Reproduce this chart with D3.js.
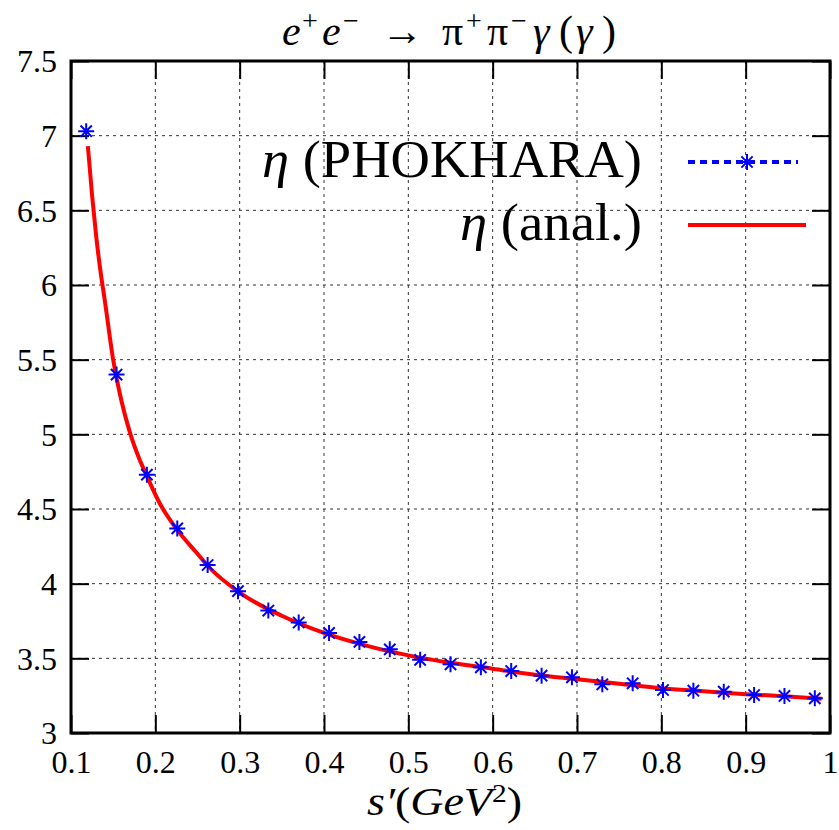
<!DOCTYPE html>
<html>
<head>
<meta charset="utf-8">
<script src="https://cdn.jsdelivr.net/npm/d3@7"></script>
<style>
  html, body { margin: 0; padding: 0; background: #fff; }
  svg { display: block; }
  text { font-family: "Liberation Serif", "DejaVu Serif", serif; fill: #000; }
</style>
</head>
<body>
<svg id="chart" width="839" height="830"></svg>
<script>
// ---- data ----
const xTicks = [0.1, 0.2, 0.3, 0.4, 0.5, 0.6, 0.7, 0.8, 0.9, 1.0];
const xTickLabels = ["0.1", "0.2", "0.3", "0.4", "0.5", "0.6", "0.7", "0.8", "0.9", "1"];
const yTicks = [3, 3.5, 4, 4.5, 5, 5.5, 6, 6.5, 7, 7.5];
const yTickLabels = ["3", "3.5", "4", "4.5", "5", "5.5", "6", "6.5", "7", "7.5"];

// PHOKHARA (Monte Carlo) points
const mcX = [0.118, 0.154, 0.190, 0.226, 0.262, 0.298, 0.334, 0.370, 0.406, 0.442, 0.478, 0.514, 0.550,
             0.586, 0.622, 0.658, 0.694, 0.730, 0.766, 0.802, 0.838, 0.874, 0.910, 0.946, 0.982];
const mcY = [7.03, 5.40, 4.73, 4.37, 4.125, 3.95, 3.82, 3.74, 3.67, 3.61, 3.56, 3.49, 3.46,
             3.44, 3.415, 3.384, 3.373, 3.326, 3.333, 3.288, 3.283, 3.277, 3.254, 3.248, 3.232];

// analytical curve
const anX = [0.120, 0.125, 0.130, 0.135, 0.140, 0.150, 0.160, 0.170, 0.180, 0.190, 0.206, 0.226, 0.250,
             0.262, 0.300, 0.350, 0.400, 0.450, 0.500, 0.550, 0.600, 0.650, 0.700, 0.750, 0.800,
             0.850, 0.900, 0.950, 0.990];
const anY = [6.93, 6.60, 6.32, 6.09, 5.90, 5.50, 5.22, 5.01, 4.85, 4.72, 4.53, 4.36, 4.20,
             4.12, 3.94, 3.785, 3.67, 3.585, 3.52, 3.47, 3.43, 3.39, 3.36, 3.33, 3.30,
             3.28, 3.26, 3.245, 3.23];

// ---- layout ----
const svg = d3.select("#chart");
const L = 71, R = 830, T = 61, B = 733;
const x = d3.scaleLinear().domain([0.1, 1.0]).range([L, R]);
const y = d3.scaleLinear().domain([3, 7.5]).range([B, T]);

// grid
const grid = svg.append("g");
grid.selectAll("line.gx").data(xTicks.slice(1, -1)).enter().append("line")
  .attr("x1", d => x(d)).attr("x2", d => x(d)).attr("y1", T).attr("y2", B)
  .attr("stroke", "#333").attr("stroke-width", 1).attr("stroke-dasharray", "3,4");
grid.selectAll("line.gy").data(yTicks.slice(1, -1)).enter().append("line")
  .attr("x1", L).attr("x2", R).attr("y1", d => y(d)).attr("y2", d => y(d))
  .attr("stroke", "#333").attr("stroke-width", 1).attr("stroke-dasharray", "3,4");

// axes with inward ticks
const tl = 18;
const gB = svg.append("g").attr("transform", `translate(0,${B})`)
  .call(d3.axisBottom(x).tickValues(xTicks).tickSize(-tl).tickFormat((d, i) => xTickLabels[i]));
const gT = svg.append("g").attr("transform", `translate(0,${T})`)
  .call(d3.axisTop(x).tickValues(xTicks).tickSize(-tl).tickFormat(""));
const gL = svg.append("g").attr("transform", `translate(${L},0)`)
  .call(d3.axisLeft(y).tickValues(yTicks).tickSize(-tl).tickFormat((d, i) => yTickLabels[i]));
const gR = svg.append("g").attr("transform", `translate(${R},0)`)
  .call(d3.axisRight(y).tickValues(yTicks).tickSize(-tl).tickFormat(""));
[gB, gT, gL, gR].forEach(g => {
  g.select(".domain").remove();
  g.selectAll(".tick line").attr("stroke", "#000").attr("stroke-width", 2);
});
gB.selectAll(".tick text").attr("y", 40).attr("dy", 0)
  .attr("font-size", 32).attr("fill", "#000");
gL.selectAll(".tick text").attr("x", -14).attr("dy", "0.34em")
  .attr("font-size", 32).attr("fill", "#000");

// analytic curve
const line = d3.line().x((d, i) => x(anX[i])).y(d => y(d)).curve(d3.curveMonotoneX);
svg.append("path").datum(anY).attr("d", line)
  .attr("fill", "none").attr("stroke", "#ff0000").attr("stroke-width", 4)
  .attr("stroke-linejoin", "round").attr("stroke-linecap", "butt");

// star marker
function starPath(cx, cy, r) {
  const d = r * Math.SQRT1_2;
  return `M${cx - r},${cy}H${cx + r}M${cx},${cy - r}V${cy + r}` +
         `M${cx - d},${cy - d}L${cx + d},${cy + d}M${cx - d},${cy + d}L${cx + d},${cy - d}`;
}
svg.append("g").selectAll("path").data(mcY).enter().append("path")
  .attr("d", (d, i) => starPath(x(mcX[i]), y(d), 8))
  .attr("fill", "none").attr("stroke", "#0000ff").attr("stroke-width", 2);

// frame
svg.append("rect").attr("x", L).attr("y", T).attr("width", R - L).attr("height", B - T)
  .attr("fill", "none").attr("stroke", "#000").attr("stroke-width", 3);

// title: pieces [text, x, superscript?, italic?]
const titleParts = [
  ["e", 282, false, true], ["+", 302, true, false], ["e", 322, false, true], ["−", 343, true, false],
  ["→", 381, false, false], ["π", 442, false, false], ["+", 466, true, false], ["π", 487, false, false],
  ["−", 511, true, false], ["γ", 533, false, true], ["(", 559, false, false], ["γ", 576, false, true],
  [")", 602, false, false]
];
const title = svg.append("text").attr("y", 45).attr("font-size", 42);
titleParts.forEach(p => {
  title.append("tspan").attr("x", p[1]).attr("y", p[2] ? 30 : 45)
    .attr("font-size", p[2] ? 28 : 42)
    .attr("font-style", p[3] ? "italic" : "normal").text(p[0]);
});

// x axis title
const xt = svg.append("text").attr("x", 367).attr("y", 815)
  .attr("font-size", 39).attr("textLength", 155).attr("lengthAdjust", "spacingAndGlyphs");
xt.append("tspan").attr("font-style", "italic").text("s′");
xt.append("tspan").text("(");
xt.append("tspan").attr("font-style", "italic").text("GeV");
xt.append("tspan").attr("font-size", 25).attr("dy", -13).text("2");
xt.append("tspan").attr("dy", 13).text(")");

// legend
const legendNames = [["η", " (PHOKHARA)"], ["η", " (anal.)"]];
const legBase = [177, 240];
const legStart = [262, 460];
legendNames.forEach((nm, i) => {
  const t = svg.append("text").attr("x", legStart[i]).attr("y", legBase[i])
    .attr("font-size", 52).attr("textLength", 642 - legStart[i]).attr("lengthAdjust", "spacingAndGlyphs");
  t.append("tspan").attr("font-style", "italic").text(nm[0]);
  t.append("tspan").text(nm[1]);
});
svg.append("line").attr("x1", 688).attr("x2", 798).attr("y1", 162).attr("y2", 162)
  .attr("stroke", "#0000ff").attr("stroke-width", 4).attr("stroke-dasharray", "7,5");
svg.append("path").attr("d", starPath(747, 162, 8))
  .attr("fill", "none").attr("stroke", "#0000ff").attr("stroke-width", 2);
svg.append("line").attr("x1", 688).attr("x2", 806).attr("y1", 225).attr("y2", 225)
  .attr("stroke", "#ff0000").attr("stroke-width", 4);
</script>
</body>
</html>
